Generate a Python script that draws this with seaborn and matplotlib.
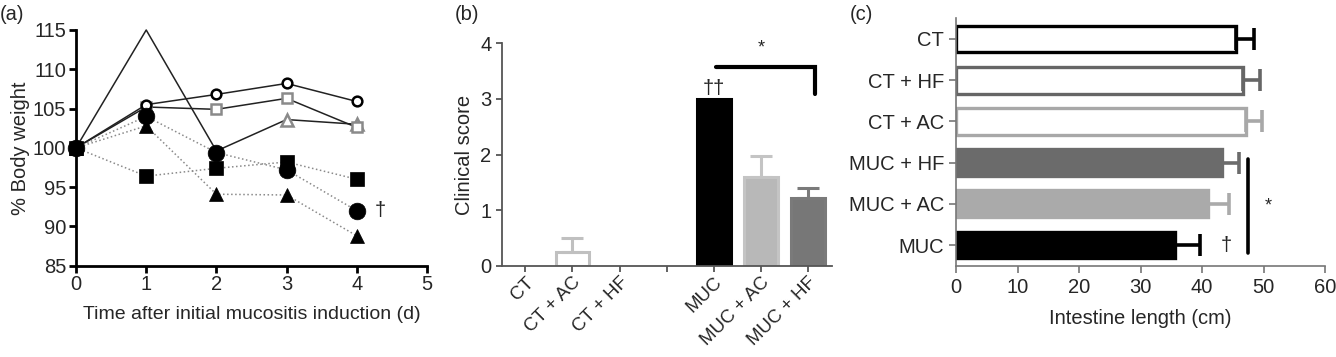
import numpy as np
import pandas as pd
import matplotlib
matplotlib.use("Agg")
import matplotlib.pyplot as plt
import seaborn as sns

# ---------------- data ----------------
days = [0, 1, 2, 3, 4]
ct_open_circle = [100, 105.5, 106.8, 108.2, 105.9]
ct_open_square = [100, 105.2, 104.9, 106.3, 102.6]
ct_open_triangle = [100, 115, 99.6, 103.6, 103.0]
muc_filled_circle = [100, 104.0, 99.4, 97.2, 92.0]
muc_filled_square = [100, 96.4, 97.4, 98.2, 96.0]
muc_filled_triangle = [100, 102.8, 94.1, 94.0, 88.8]

score_groups = ["CT", "CT + AC", "CT + HF", "MUC", "MUC + AC", "MUC + HF"]
score_values = [0, 0.25, 0, 3.0, 1.6, 1.22]
score_err = [0, 0.25, 0, 0, 0.38, 0.18]
score_order = ["CT", "CT + AC", "CT + HF", " ", "MUC", "MUC + AC", "MUC + HF"]

len_groups = ["CT", "CT + HF", "CT + AC", "MUC + HF", "MUC + AC", "MUC"]
len_values = [45.6, 46.6, 47.2, 43.3, 41.0, 35.6]
len_err = [2.8, 2.9, 2.5, 2.7, 3.4, 4.1]

# ---------------- style ----------------
sns.set_theme(style="ticks")
plt.rcParams["font.family"] = ["Liberation Sans", "DejaVu Sans"]
FS = 14.5

fig = plt.figure(figsize=(13.36, 3.57), dpi=100)
axA = fig.add_axes([0.0569, 0.2557, 0.2627, 0.6603])
axB = fig.add_axes([0.3755, 0.2557, 0.2470, 0.6230])
axC = fig.add_axes([0.7156, 0.2557, 0.2762, 0.6930])

# ---------------- panel (a) ----------------
gray = "#8a8a8a"
solid_kw = dict(color="#222222", linewidth=1.1, linestyle="-", clip_on=False)
dot_kw = dict(color=gray, linewidth=1.1, linestyle=":", clip_on=False)

sns.lineplot(x=days, y=ct_open_triangle, ax=axA, marker="^", markersize=8,
             markerfacecolor="white", markeredgecolor=gray, markeredgewidth=1.8,
             markevery=[3, 4], **solid_kw)
sns.lineplot(x=days, y=ct_open_square, ax=axA, marker="s", markersize=7,
             markerfacecolor="white", markeredgecolor=gray, markeredgewidth=1.8,
             **solid_kw)
sns.lineplot(x=days, y=ct_open_circle, ax=axA, marker="o", markersize=7,
             markerfacecolor="white", markeredgecolor="black", markeredgewidth=1.8,
             **solid_kw)
sns.lineplot(x=days, y=muc_filled_square, ax=axA, marker="s", markersize=10,
             markerfacecolor="black", markeredgecolor="black", markeredgewidth=0.5,
             **dot_kw)
sns.lineplot(x=days, y=muc_filled_triangle, ax=axA, marker="^", markersize=10,
             markerfacecolor="black", markeredgecolor="black", markeredgewidth=0.5,
             **dot_kw)
sns.lineplot(x=days, y=muc_filled_circle, ax=axA, marker="o", markersize=12,
             markerfacecolor="black", markeredgecolor="black", markeredgewidth=0.5,
             **dot_kw)

axA.text(4.33, muc_filled_circle[-1], "\u2020", fontsize=FS, ha="center", va="center")
axA.set_xlim(0, 5)
axA.set_ylim(85, 115)
axA.set_xticks(range(0, 6))
axA.set_yticks(range(85, 116, 5))
axA.set_xlabel("Time after initial mucositis induction (d)", fontsize=14, labelpad=8)
axA.set_ylabel("% Body weight", fontsize=FS, labelpad=2)
sns.despine(ax=axA)
for s in ["left", "bottom"]:
    axA.spines[s].set_linewidth(2)
    axA.spines[s].set_color("black")
axA.tick_params(length=5, width=2, color="black", labelsize=FS, pad=2)

# ---------------- panel (b) ----------------
b_face = {"CT": "white", "CT + AC": "white", "CT + HF": "white",
          "MUC": "black", "MUC + AC": "#b8b8b8", "MUC + HF": "#777777"}
b_edge = {"CT": "#c0c0c0", "CT + AC": "#c0c0c0", "CT + HF": "#777777",
          "MUC": "black", "MUC + AC": "#c4c4c4", "MUC + HF": "#7a7a7a"}
df_b = pd.DataFrame({"group": score_groups, "score": score_values})
sns.barplot(data=df_b, x="group", y="score", order=score_order, hue="group",
            hue_order=score_groups, palette=b_face, legend=False, width=0.71,
            errorbar=None, ax=axB)
for patch, g, v in zip(axB.patches, score_groups, score_values):
    patch.set_facecolor(b_face[g])
    patch.set_edgecolor(b_edge[g])
    patch.set_linewidth(2.2 if v > 0 else 0)
for g, v, e in zip(score_groups, score_values, score_err):
    if e > 0:
        axB.errorbar(score_order.index(g), v, yerr=[[0], [e]], fmt="none",
                     ecolor=b_edge[g], elinewidth=2.2, capsize=8, capthick=2.2)

axB.plot([4.05, 6.15, 6.15], [3.58, 3.58, 3.08], color="black", linewidth=3,
         solid_joinstyle="miter")
axB.text(5.0, 3.76, "*", fontsize=13, ha="center", va="bottom")
axB.text(4.0, 3.02, "\u2020\u2020", fontsize=FS, ha="center", va="bottom")

axB.set_xlim(-0.5, 6.5)
axB.set_ylim(0, 4)
axB.set_yticks(range(0, 5))
axB.set_xticks(range(len(score_order)))
axB.set_xticklabels(score_order, rotation=45, ha="right", rotation_mode="anchor",
                    fontsize=13.5)
axB.set_xlabel("")
axB.set_ylabel("Clinical score", fontsize=FS, labelpad=4)
sns.despine(ax=axB)
for s in ["left", "bottom"]:
    axB.spines[s].set_linewidth(1.3)
    axB.spines[s].set_color("#555555")
axB.tick_params(axis="y", length=4, width=1.3, color="#555555", labelsize=FS)
axB.tick_params(axis="x", length=4, width=1.3, color="#555555", pad=2)

# ---------------- panel (c) ----------------
c_face = {"CT": "white", "CT + HF": "white", "CT + AC": "white",
          "MUC + HF": "#6b6b6b", "MUC + AC": "#aaaaaa", "MUC": "black"}
c_edge = {"CT": "black", "CT + HF": "#666666", "CT + AC": "#a8a8a8",
          "MUC + HF": "#6b6b6b", "MUC + AC": "#aaaaaa", "MUC": "black"}
df_c = pd.DataFrame({"group": len_groups, "length": len_values})
sns.barplot(data=df_c, y="group", x="length", order=len_groups, hue="group",
            hue_order=len_groups, palette=c_face, legend=False, width=0.65,
            errorbar=None, orient="h", ax=axC)
for patch, g in zip(axC.patches, len_groups):
    patch.set_facecolor(c_face[g])
    patch.set_edgecolor(c_edge[g])
    patch.set_linewidth(2.4)
for i, (g, v, e) in enumerate(zip(len_groups, len_values, len_err)):
    axC.errorbar(v, i, xerr=[[0], [e]], fmt="none", ecolor=c_edge[g],
                 elinewidth=2.6, capsize=8, capthick=2.6)

axC.plot([47.5, 47.5], [2.9, 5.2], color="black", linewidth=2.6)
axC.text(50.8, 4.05, "*", fontsize=13, ha="center", va="center")
axC.text(44.0, 5.0, "\u2020", fontsize=FS, ha="center", va="center")

axC.set_xlim(0, 60)
axC.set_ylim(5.5, -0.5)
axC.set_xticks(range(0, 61, 10))
axC.set_xlabel("Intestine length (cm)", fontsize=FS, labelpad=9)
axC.set_ylabel("")
sns.despine(ax=axC)
for s in ["left", "bottom"]:
    axC.spines[s].set_linewidth(1.2)
    axC.spines[s].set_color("#777777")
axC.tick_params(length=5, width=1.2, color="#777777", labelsize=FS)

# ---------------- panel letters ----------------
fig.text(0.0, 0.958, "(a)", fontsize=FS, ha="left", va="center")
fig.text(455 / 1336, 0.958, "(b)", fontsize=FS, ha="left", va="center")
fig.text(850 / 1336, 0.958, "(c)", fontsize=FS, ha="left", va="center")

fig.savefig("out.png", dpi=100)
